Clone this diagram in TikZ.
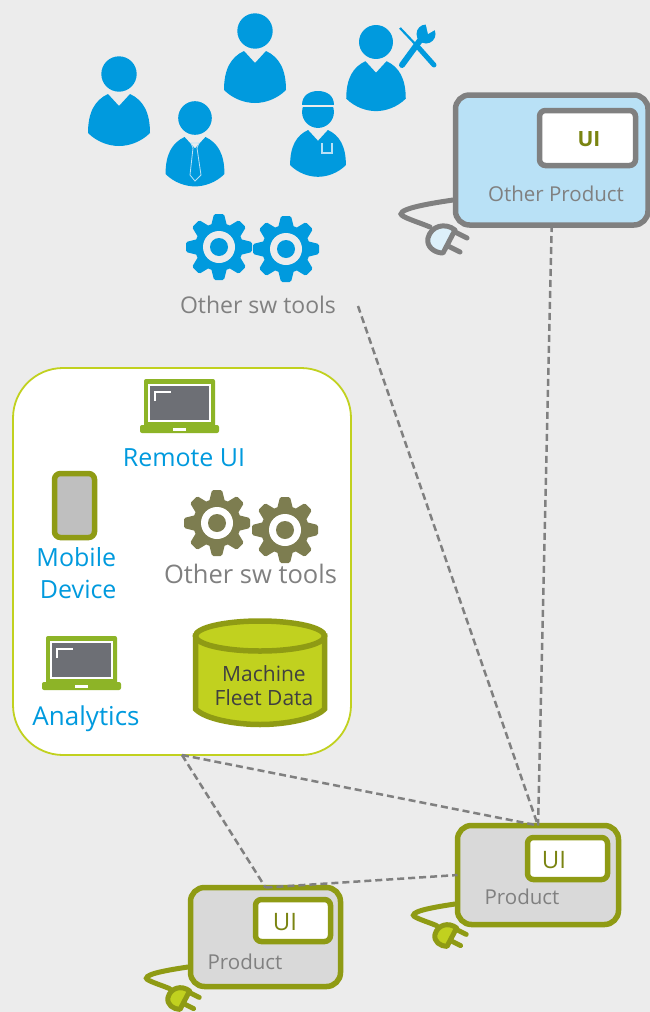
\documentclass[tikz,border=0pt]{standalone}
\usepackage{fontspec}
\setmainfont{Open Sans}
\definecolor{bgray}{HTML}{ECECEC}
\definecolor{iconblue}{HTML}{009ADE}
\definecolor{skyfill}{HTML}{B9E1F6}
\definecolor{plugsky}{HTML}{DCF0FA}
\definecolor{linegray}{HTML}{808080}
\definecolor{olive}{HTML}{8F9B14}
\definecolor{lime}{HTML}{C1D11F}
\definecolor{boxgray}{HTML}{D9D9D9}
\definecolor{lapgreen}{HTML}{8DB427}
\definecolor{screengray}{HTML}{6D6F75}
\definecolor{geargreen}{HTML}{7D7D50}
\newcommand{\personicon}[3]{
	\begin{scope}[shift={(#1,#2)},scale=#3]
		\fill[iconblue] (0,0) circle (17.7);
		\fill[iconblue] (-11,20) -- (0,32) -- (11,20) .. controls (24,26) and (31,38) .. (31,59) .. controls (22,68) and (10,72) .. (0,72) .. controls (-10,72) and (-22,68) .. (-31,59) .. controls (-31,38) and (-24,26) .. cycle;
	\end{scope}
}
\newcommand{\gearicon}[4]{
	\begin{scope}[shift={(#1,#2)}]
		\fill[#3] (0,0) circle (24);
		\foreach \a in {0,45,...,315}
			\fill[#3,rotate=\a,rounded corners=1.5pt] (21,-8) -- (33,-5) -- (33,5) -- (21,8) -- cycle;
		\fill[#4] (0,0) circle (16);
		\fill[#3] (0,0) circle (9);
	\end{scope}
}
\newcommand{\laptopicon}[2]{
	\begin{scope}[shift={(#1,#2)}]
		\fill[lapgreen,rounded corners=2pt] (4,0) rectangle (75,48);
		\fill[lapgreen,rounded corners=2pt] (0,46) rectangle (79,54);
		\draw[white,line width=2.5,fill=screengray] (9,6) rectangle (70,42);
		\draw[white,line width=1.8] (15,22) -- (15,13) -- (31,13);
		\fill[white] (33,49) rectangle (46,52);
	\end{scope}
}
\newcommand{\plugicon}[5]{
	\begin{scope}[shift={(#1,#2)},scale=#3]
		\draw[#4,line width=5,line cap=round] (0,0) .. controls (-20,3) and (-52,8) .. (-52,14) .. controls (-52,17) and (-35,22) .. (-23,27);
		\draw[#4,line width=5,line cap=round] (2,32) -- (14,38);
		\draw[#4,line width=5,line cap=round] (-5,46) -- (7,52);
		\draw[#4,line width=5,line join=round,fill=#5] (2,30) .. controls (-8,22) and (-22,26) .. (-25,38) .. controls (-27,47) and (-18,53) .. (-10,53) -- cycle;
	\end{scope}
}
\begin{document}
\begin{tikzpicture}[x=1pt,y=-1pt]
	\tikzstyle{productbox}=[draw=olive,line width=5.5,fill=boxgray,rounded corners=14pt,inner sep=0,outer sep=0]
	\tikzstyle{uibox}=[draw=olive,line width=5.5,fill=white,rounded corners=6pt,inner sep=0,outer sep=0]
	\tikzstyle{uitext}=[font=\fontsize{24}{26}\selectfont,text=olive!85!black,inner sep=0]
	\tikzstyle{graytext}=[font=\fontsize{20.5}{24}\selectfont,text=linegray,inner sep=0]
	\tikzstyle{toolstext}=[font=\fontsize{23}{26}\selectfont,text=linegray,inner sep=0]
	\tikzstyle{bluetext}=[font=\fontsize{25}{32}\selectfont,text=iconblue,inner sep=0]
	\tikzstyle{link}=[draw=linegray,line width=2.5,dash pattern=on 7pt off 4pt]
	\useasboundingbox (0,0) rectangle (650,1012);
	\fill[bgray] (0,0) rectangle (650,1012);

	% people
	\personicon{119}{74}{1}
	\personicon{255}{31}{1}
	\personicon{195}{118}{.95}
	\draw[skyfill,line width=.8] (191,143) -- (199,143) -- (197,148) -- (201,175) -- (195,181) -- (190,175) -- (193,148) -- cycle;
	\personicon{318}{112}{.9}
	\fill[iconblue] (302,105) .. controls (302,95) and (310,91) .. (318,91) .. controls (326,91) and (334,95) .. (334,105) -- cycle;
	\draw[bgray,line width=1.5] (300,106) -- (336,106);
	\draw[skyfill,line width=1.2] (322,143) -- (322,153) -- (332,153) -- (332,143);
	\personicon{376}{42}{.96}
	% wrench
	\draw[iconblue,line width=2.2] (400,28) -- (418,47);
	\draw[iconblue,line width=5,line cap=round] (418,47) -- (434,65);
	\draw[iconblue,line width=6,line cap=round] (402,65) -- (421,39);
	\fill[iconblue] (426,34) circle (9.5);
	\fill[bgray] (428,34) -- (425,21) -- (440,27) -- cycle;

	% top gears
	\gearicon{219}{247}{iconblue}{bgray}
	\gearicon{286}{249}{iconblue}{bgray}
	\node [toolstext] (toolstop) at (258,305) {Other sw tools};
	\coordinate (toolsend) at (358,306);

	% other product
	\plugicon{453}{200}{1}{linegray}{plugsky}
	\node [productbox,draw=linegray,fill=skyfill,minimum width=192.5,minimum height=130] (otherprod) at (551.75,160) {};
	\node [uibox,draw=linegray,minimum width=96,minimum height=55] (otherui) at (587.5,138) {};
	\node [uitext,font=\fontsize{21}{24}\selectfont\bfseries] (otheruitext) at (589,139) {UI};
	\node [graytext] (otherlabel) at (556,194) {Other Product};

	% cloud
	\node [draw=lime,line width=1.8,fill=white,rounded corners=50pt,minimum width=338,minimum height=387,inner sep=0,outer sep=0] (cloud) at (182,561.5) {};
	\laptopicon{140}{379}
	\node [bluetext] (remoteui) at (184,458) {Remote UI};
	\draw[olive,line width=5.5,fill=black!25,rounded corners=6pt] (54.5,473.5) rectangle (94.5,537.5);
	\node [bluetext,align=left] (mobile) at (76.5,573) {Mobile\\[0pt]\hspace{3.5pt}Device};
	\gearicon{217}{523}{geargreen}{white}
	\gearicon{285}{530}{geargreen}{white}
	\node [toolstext,font=\fontsize{25.5}{28}\selectfont] (toolscloud) at (250.5,574) {Other sw tools};
	\laptopicon{42}{636}
	\node [bluetext,font=\fontsize{26}{32}\selectfont] (analytics) at (86,719) {Analytics};
	% database
	\draw[olive,line width=5.5,fill=lime] (195.5,636) -- (195.5,709) .. controls (205,719) and (235,724.5) .. (260,724.5) .. controls (285,724.5) and (315,719) .. (324.5,709) -- (324.5,636) -- cycle;
	\draw[olive,line width=5.5,fill=lime] (260,636) ellipse (64.5 and 15);
	\node [font=\fontsize{21}{24}\selectfont,text=black!75,align=center,inner sep=0] (fleetdata) at (264,686) {Machine\\Fleet Data};

	% products
	\plugicon{455}{904}{.8}{olive}{lime}
	\node [productbox,minimum width=161,minimum height=99] (prodtwo) at (538,875) {};
	\node [uibox,minimum width=80,minimum height=42] (uitwo) at (567.5,858.5) {};
	\node [uitext] (uitwotext) at (554,860) {UI};
	\node [graytext] (prodtwolabel) at (522,897) {Product};

	\plugicon{188}{967}{.8}{olive}{lime}
	\node [productbox,minimum width=150,minimum height=99] (prodone) at (265.5,937) {};
	\node [uibox,minimum width=75,minimum height=42] (uione) at (293,920.5) {};
	\node [uitext] (uionetext) at (285,922) {UI};
	\node [graytext] (prodonelabel) at (245,962) {Product};

	% links
	\path[link] (toolsend) -- (prodtwo.north);
	\path[link] (otherprod.south) -- (prodtwo.north);
	\path[link] (cloud.south) -- (prodtwo.north);
	\path[link] (cloud.south) -- (prodone.north);
	\path[link] (prodone.north) -- (prodtwo.west);
\end{tikzpicture}
\end{document}
